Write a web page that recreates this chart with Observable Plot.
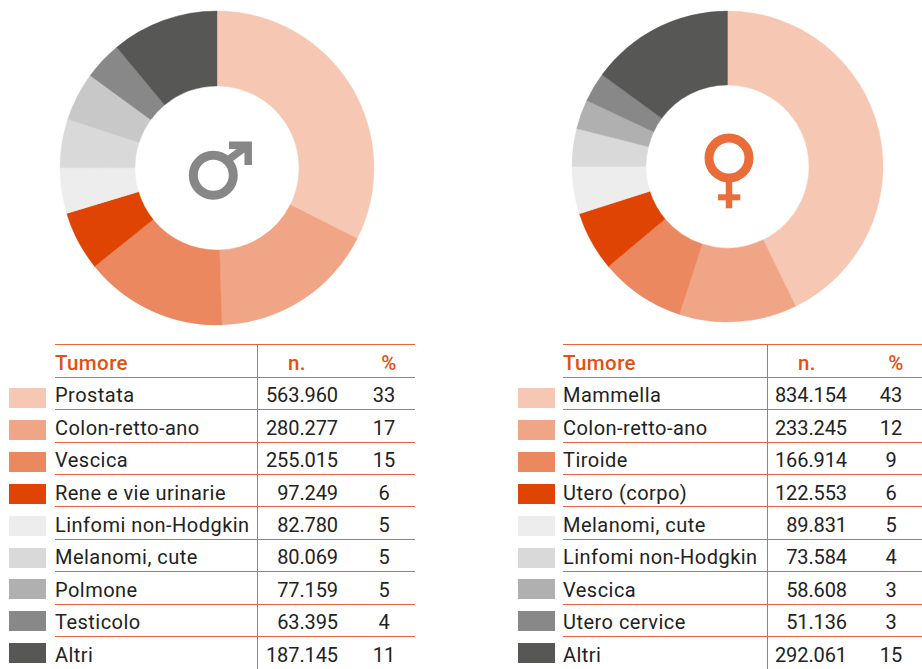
<!DOCTYPE html>
<html><head><meta charset="utf-8">
<script src="https://cdn.jsdelivr.net/npm/d3@7"></script>
<script src="https://cdn.jsdelivr.net/npm/@observablehq/plot@0.6"></script>
<style>
html,body{margin:0;padding:0;background:#fff;width:922px;height:669px;overflow:hidden;font-family:Roboto,sans-serif}
.abs{position:absolute}
.t{position:absolute;white-space:pre;line-height:1;color:#222;font-size:20px;letter-spacing:.47px}
.n{letter-spacing:-.1px}
.h{color:#E3500F;font-weight:500;font-size:20.5px;letter-spacing:.4px}
.r{position:absolute;background:#E8643A}
</style></head><body>
<script>
const shades = ["#F6C8B4","#F1A587","#EC885F","#E04403","#EDEDED","#D9D9D9","#B0B0B0","#888888","#575756"];
const maleRingShades = ["#F6C8B4","#F1A587","#EC885F","#E04403","#EDEDED","#D9D9D9","#C8C8C8","#888888","#575756"];

const maleNames = ["Prostata","Colon-retto-ano","Vescica","Rene e vie urinarie","Linfomi non-Hodgkin","Melanomi, cute","Polmone","Testicolo","Altri"];
const maleCounts = ["563.960","280.277","255.015","97.249","82.780","80.069","77.159","63.395","187.145"];
const malePct = [33,17,15,6,5,5,5,4,11];
// slice sizes as drawn in the picture, in degrees
const maleSlices = [116.7,61.5,53,22,16.9,18,18,14.2,39.7];

const femaleNames = ["Mammella","Colon-retto-ano","Tiroide","Utero (corpo)","Melanomi, cute","Linfomi non-Hodgkin","Vescica","Utero cervice","Altri"];
const femaleCounts = ["834.154","233.245","166.914","122.553","89.831","73.584","58.608","51.136","292.061"];
const femalePct = [43,12,9,6,5,4,3,3,15];
const femaleSlices = [154,44,32,22.3,17.7,14.1,11,11.1,53.8];

function donut(names, slices, palette, inner, size, left, top){
  const rows = names.map((name,i)=>({name,key:i,deg:slices[i]}));
  const arcs = d3.pie().sort(null).value(d=>d.deg)(rows);
  const plot = Plot.plot({
    width:size,height:size,margin:10,
    x:{domain:[-1,1],axis:null},
    y:{domain:[-1,1],axis:null},
    color:{type:"ordinal",domain:rows.map(d=>d.key),range:palette},
    marks:[
      Plot.dot(arcs,{x:()=>0,y:()=>0,fill:d=>d.data.key,
        render(index,scales,values,dims,ctx){
          const R=(scales.x(1)-scales.x(-1))/2;
          const arc=d3.arc().outerRadius(R).innerRadius(R*inner);
          const g=d3.select(ctx.document.createElementNS("http://www.w3.org/2000/svg","g"));
          for(const i of index){
            g.append("path").attr("d",arc(arcs[i]))
              .attr("transform",`translate(${scales.x(0)},${scales.y(0)})`)
              .attr("fill",values.fill[i]).attr("stroke",values.fill[i]).attr("stroke-width",.4);
          }
          return g.node();
        }})
    ]
  });
  plot.classList.add("abs");
  plot.style.left=left+"px";plot.style.top=top+"px";plot.style.maxWidth="none";plot.style.background="transparent";
  document.body.appendChild(plot);
}
donut(maleNames,maleSlices,maleRingShades,82/157,334,50,1);
donut(femaleNames,femaleSlices,shades,81.5/155.5,331,562,1);

function add(cls,css,text){
  const d=document.createElement("div");d.className=cls;Object.assign(d.style,css);
  if(text!=null)d.textContent=text;document.body.appendChild(d);return d;
}
const ruleYs=[344.5,377,409.5,442,474.5,506.5,539,571.5,604,636.5];
const swatchYs=[388,420,452,484,516,548,579,611,643];
const baselines=[401.7,434.5,466.8,499.3,531.7,564,596.7,629,661.7];
function table(o,names,counts,pct){
  const ht="352.7px";
  add("t h",{left:o.text-1+"px",top:ht},"Tumore");
  add("t h",{left:(o.nHead-40)+"px",width:"80px",textAlign:"center",top:ht},"n.");
  add("t h",{left:(o.pHead-40)+"px",width:"80px",textAlign:"center",top:ht},"%");
  for(const y of ruleYs) add("r",{left:o.text-1+"px",width:(o.end-o.text+1)+"px",top:y-.5+"px",height:"1.3px"});
  add("r",{left:o.vert+"px",width:"1.2px",top:"344px",height:"325px"});
  names.forEach((n,i)=>{
    add("abs",{left:o.sw+"px",width:"37px",top:swatchYs[i]+"px",height:"20px",background:shades[i]});
    const top=baselines[i]-16.8;
    add("t",{left:o.text-1+"px",top:top+"px"},n);
    add("t n",{left:(o.nRight-100)+"px",width:"100px",textAlign:"right",top:top+"px"},counts[i]);
    add("t n",{left:(o.pCenter-30)+"px",width:"60px",textAlign:"center",top:top+"px"},String(pct[i]));
  });
}
table({sw:9,text:56,end:415,vert:257,nHead:297,pHead:389,nRight:338,pCenter:384},maleNames,maleCounts,malePct);
table({sw:518,text:564,end:922,vert:767,nHead:807,pHead:896,nRight:847,pCenter:891},femaleNames,femaleCounts,femalePct);

// gender symbols
const s=d3.select(document.body).append("svg").attr("class","abs").attr("width",922).attr("height",340).style("left","0").style("top","0");
const m="#878787", f="#EA6C38";
s.append("circle").attr("cx",213.3).attr("cy",175.3).attr("r",20).attr("fill","none").attr("stroke",m).attr("stroke-width",9);
s.append("path").attr("d","M229,145.2H248.2V165M228,160L247,146").attr("fill","none").attr("stroke",m).attr("stroke-width",7.5);
s.append("circle").attr("cx",729).attr("cy",158).attr("r",20).attr("fill","none").attr("stroke",f).attr("stroke-width",9);
s.append("path").attr("d","M729,181V208.3").attr("fill","none").attr("stroke",f).attr("stroke-width",6.5);
s.append("path").attr("d","M718,197.3H740.3").attr("fill","none").attr("stroke",f).attr("stroke-width",6);
</script>
</body></html>
